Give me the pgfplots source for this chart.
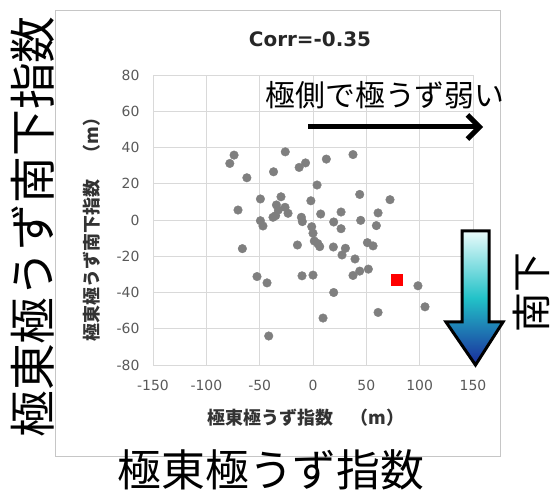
\documentclass[border=0pt]{standalone}
\usepackage{fontspec}
\setmainfont{DejaVu Sans}
\newfontfamily\jp{Noto Sans CJK JP}
\usepackage{pgfplots}
\pgfplotsset{compat=1.18}
\usetikzlibrary{arrows.meta}
\definecolor{ptgray}{HTML}{7F7F7F}
\definecolor{gridgray}{HTML}{D9D9D9}
\definecolor{ticktext}{HTML}{595959}
\definecolor{arrtop}{HTML}{EAFBFB}
\definecolor{arrmid}{HTML}{22C2C8}
\definecolor{arrbot}{HTML}{1A2A9C}
\pgfplotstableread{
x y
-74 35.8
-78 31.2
-26 37.6
-7 31.5
-13 29
12.5 33.6
37.5 36.1
-62 23.3
-37 26.6
3.8 19.3
43.8 14.1
-49.3 11.6
-30 12.8
-2 10.6
-70.3 5.5
-34.3 8.3
-26.2 7
-32.5 5.5
-23.4 3.7
-35 2.4
-37.5 1.5
-49.3 -0.4
-46.9 -3.3
-10.9 1.5
-10 -0.9
7.2 3.3
26.3 4.4
19.4 -1.1
26.3 -4.8
44.7 -0.2
61 3.9
59.4 -3.1
-1.2 -3.7
0 -7.3
1.2 -11.6
4.5 -13
6.3 -14.7
-14.6 -13.8
-66.2 -15.8
19.1 -14.9
30.4 -15.6
27.2 -19.3
39.4 -21.5
51 -12.5
56.3 -14.3
-52.5 -31.2
-43.1 -34.7
-10.3 -30.8
0 -30.4
37.5 -30.6
43.8 -28.2
51.9 -27.1
19.4 -40
72.2 11.2
98.4 -36.3
105 -47.9
61 -51
9.4 -54.1
-41.5 -64
}\pts
\begin{document}
\begin{tikzpicture}
\useasboundingbox (0,0) rectangle (551bp,496bp);
\draw[gray!45, line width=0.8bp] (55bp,40bp) rectangle (500bp,486bp);
\begin{axis}[at={(153bp,131bp)}, anchor=south west, scale only axis,
  width=320bp, height=290bp,
  xmin=-150, xmax=150, ymin=-80, ymax=80,
  xtick={-150,-100,...,150}, ytick={-80,-60,...,80},
  grid=major, grid style={gridgray, line width=0.8bp},
  axis line style={gridgray, line width=0.8bp},
  major tick length=0pt,
  tick label style={font=\fontsize{14}{16}\selectfont, text=ticktext},
  /pgf/number format/assume math mode=true,
  xticklabel style={yshift=-12bp},
  yticklabel style={xshift=-10bp},
  clip=false]
\addplot[only marks, mark=*, mark size=4.3bp, color=ptgray] table {\pts};
\addplot[only marks, mark=square*, mark size=5.5bp, color=red] coordinates {(78.5,-33)};
\end{axis}
\node[font=\bfseries\fontsize{20}{24}\selectfont, text=black!85] at (310bp,456.5bp) {Corr=-0.35};
\node[font=\jp\bfseries\fontsize{18}{20}\selectfont, text=black!80] at (306bp,78bp) {極東極うず指数　（m）};
\node[font=\jp\bfseries\fontsize{18}{20}\selectfont, text=black!80, rotate=90] at (92bp,271bp) {極東極うず南下指数　（m）};
\node[font=\jp\fontsize{30}{32}\selectfont] at (385bp,401bp) {極側で極うず弱い};
\draw[line width=5bp, -{Straight Barb[length=12bp,width=24bp]}] (308bp,369bp) -- (483bp,369bp);
\shade[top color=arrtop, bottom color=arrbot, middle color=arrmid]
  (462bp,265bp) -- (489bp,265bp) -- (489bp,174bp) -- (503bp,174bp) -- (475.5bp,131bp) -- (446bp,174bp) -- (462bp,174bp) -- cycle;
\draw[line width=3bp, line join=miter]
  (462bp,265bp) -- (489bp,265bp) -- (489bp,174bp) -- (503bp,174bp) -- (475.5bp,131bp) -- (446bp,174bp) -- (462bp,174bp) -- cycle;
\node[font=\jp\fontsize{40}{42}\selectfont, rotate=90] at (531bp,203bp) {南下};
\node[font=\jp\fontsize{47}{50}\selectfont, rotate=90] at (33bp,269bp) {極東極うず南下指数};
\node[font=\jp\fontsize{44}{46}\selectfont] at (271bp,26bp) {極東極うず指数};
\end{tikzpicture}
\end{document}
